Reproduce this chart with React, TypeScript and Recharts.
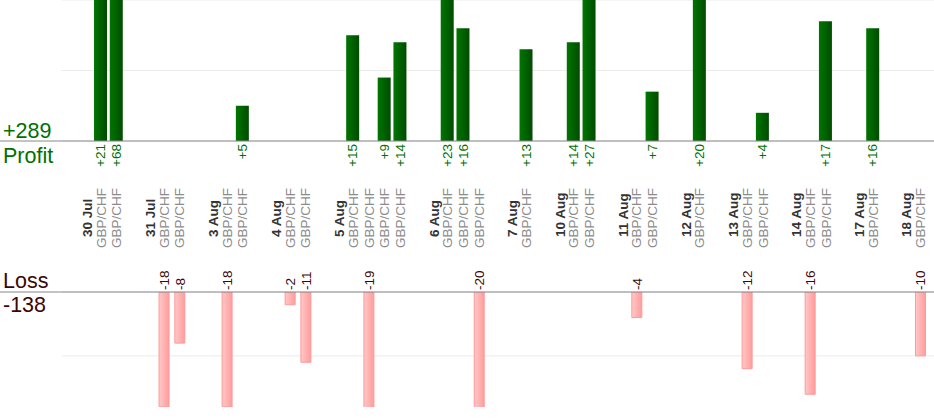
import React from 'react';
import {
  BarChart,
  Bar,
  XAxis,
  YAxis,
  CartesianGrid,
  ReferenceLine,
  LabelList,
} from 'recharts';

// ---- data ----
const days = ['30 Jul', '31 Jul', '3 Aug', '4 Aug', '5 Aug', '6 Aug', '7 Aug', '10 Aug', '11 Aug', '12 Aug', '13 Aug', '14 Aug', '17 Aug', '18 Aug'];
const pair = 'GBP/CHF';
const results: number[][] = [
  [21, 68],
  [-18, -8],
  [-18, 5],
  [-2, -11],
  [15, -19, 9, 14],
  [23, 16, -20],
  [13],
  [14, 27],
  [-4, 7],
  [20],
  [-12, 4],
  [-16, 17],
  [16],
  [-10],
];
const profitTicks = [0, 10, 20];
const lossTicks = [-10, 0];

type Slot = {
  key: string;
  kind: 'gap' | 'date' | 'trade';
  label?: string;
  profit: number | null;
  loss: number | null;
};

const slots: Slot[] = [];
days.forEach((d, i) => {
  slots.push({ key: `g${i}`, kind: 'gap', profit: null, loss: null });
  slots.push({ key: `d${i}`, kind: 'date', label: d, profit: null, loss: null });
  results[i].forEach((v, j) =>
    slots.push({
      key: `t${i}-${j}`,
      kind: 'trade',
      label: pair,
      profit: v > 0 ? v : null,
      loss: v < 0 ? v : null,
    })
  );
});
slots.push({ key: 'end', kind: 'gap', profit: null, loss: null });
const slotByKey = new Map(slots.map((s) => [s.key, s]));

const totalProfit = results.flat().filter((v) => v > 0).reduce((a, b) => a + b, 0);
const totalLoss = results.flat().filter((v) => v < 0).reduce((a, b) => a + b, 0);

const FONT = "Arial, 'Liberation Sans', Helvetica, sans-serif";
const GREEN = '#007000';
const MAROON = '#3a0606';
const LEFT_PAD = 61.5;
const CHART_W = 944;

const SlotTick = (props: any) => {
  const { x, y, payload } = props;
  const slot = slotByKey.get(payload?.value);
  if (!slot || slot.kind === 'gap') return <g />;
  if (slot.kind === 'date') {
    return (
      <text
        transform={`translate(${x + 2},${y + 96}) rotate(-90)`}
        dy="0.35em"
        textAnchor="start"
        fontFamily={FONT}
        fontWeight="bold"
        fontSize={13.5}
        fill="#333333"
      >
        {slot.label}
      </text>
    );
  }
  return (
    <text
      transform={`translate(${x},${y + 107}) rotate(-90)`}
      dy="0.35em"
      textAnchor="start"
      fontFamily={FONT}
      fontSize={13.5}
      fill="#8c8c8c"
    >
      {slot.label}
    </text>
  );
};

const ProfitLabel = (props: any) => {
  const { x, y, width, height, value } = props;
  if (value === null || value === undefined) return null;
  const cx = x + width / 2;
  const base = y + height;
  return (
    <text
      transform={`translate(${cx},${base + 3}) rotate(-90)`}
      dy="0.35em"
      textAnchor="end"
      fontFamily={FONT}
      fontSize={13.5}
      fill={GREEN}
    >
      {`+${value}`}
    </text>
  );
};

const LossLabel = (props: any) => {
  const { x, y, width, height, value } = props;
  if (value === null || value === undefined) return null;
  const cx = x + width / 2;
  const base = y + height;
  return (
    <text
      transform={`translate(${cx},${base - 2}) rotate(-90)`}
      dy="0.35em"
      textAnchor="start"
      fontFamily={FONT}
      fontSize={13.5}
      fill={MAROON}
    >
      {`${value}`}
    </text>
  );
};

export default function App() {
  return (
    <div
      style={{
        position: 'absolute',
        left: 0,
        top: 0,
        width: 934,
        height: 420,
        overflow: 'hidden',
        background: '#ffffff',
        fontFamily: FONT,
      }}
    >
      <div style={{ position: 'absolute', left: 0, top: 0 }}>
        <BarChart width={CHART_W} height={260} data={slots} margin={{ top: 0, right: 0, bottom: 0, left: 0 }}>
          <defs>
            <linearGradient id="profitGrad" x1="0" y1="0" x2="1" y2="0">
              <stop offset="0%" stopColor="#007600" />
              <stop offset="100%" stopColor="#004c00" />
            </linearGradient>
          </defs>
          <CartesianGrid
            horizontal
            vertical={false}
            stroke="#ebebeb"
            x={LEFT_PAD}
            width={CHART_W - LEFT_PAD}
            syncWithTicks
          />
          <XAxis
            dataKey="key"
            type="category"
            padding={{ left: LEFT_PAD, right: 0 }}
            height={119}
            interval={0}
            tickSize={0}
            tickMargin={0}
            axisLine={false}
            tickLine={false}
            tick={<SlotTick />}
          />
          <YAxis hide domain={[0, 20]} ticks={profitTicks} allowDataOverflow />
          <ReferenceLine y={0} stroke="#888888" strokeWidth={1} />
          <Bar dataKey="profit" barSize={13} fill="url(#profitGrad)" isAnimationActive={false}>
            <LabelList dataKey="profit" content={ProfitLabel} />
          </Bar>
        </BarChart>
      </div>
      <div style={{ position: 'absolute', left: 0, top: 260 }}>
        <BarChart width={CHART_W} height={160} data={slots} margin={{ top: 32, right: 0, bottom: 13, left: 0 }}>
          <defs>
            <linearGradient id="lossGrad" x1="0" y1="0" x2="1" y2="0">
              <stop offset="0%" stopColor="#ffc8c8" />
              <stop offset="100%" stopColor="#ff9c9c" />
            </linearGradient>
          </defs>
          <CartesianGrid
            horizontal
            vertical={false}
            stroke="#ebebeb"
            x={LEFT_PAD}
            width={CHART_W - LEFT_PAD}
            syncWithTicks
          />
          <XAxis dataKey="key" type="category" hide padding={{ left: LEFT_PAD, right: 0 }} />
          <YAxis hide domain={[-18, 0]} ticks={lossTicks} allowDataOverflow />
          <ReferenceLine y={0} stroke="#888888" strokeWidth={1} />
          <Bar dataKey="loss" barSize={10} fill="url(#lossGrad)" stroke="#ff9a9a" strokeWidth={1} isAnimationActive={false}>
            <LabelList dataKey="loss" content={LossLabel} />
          </Bar>
        </BarChart>
      </div>
      <svg width={70} height={420} style={{ position: 'absolute', left: 0, top: 0 }}>
        <text x={3} y={137.5} fontFamily={FONT} fontSize={21.5} fill={GREEN}>{`+${totalProfit}`}</text>
        <text x={3} y={163} fontFamily={FONT} fontSize={21.5} fill={GREEN}>Profit</text>
        <text x={3} y={288} fontFamily={FONT} fontSize={21.5} fill={MAROON}>Loss</text>
        <text x={3} y={312} fontFamily={FONT} fontSize={21.5} fill={MAROON}>{`${totalLoss}`}</text>
      </svg>
    </div>
  );
}
